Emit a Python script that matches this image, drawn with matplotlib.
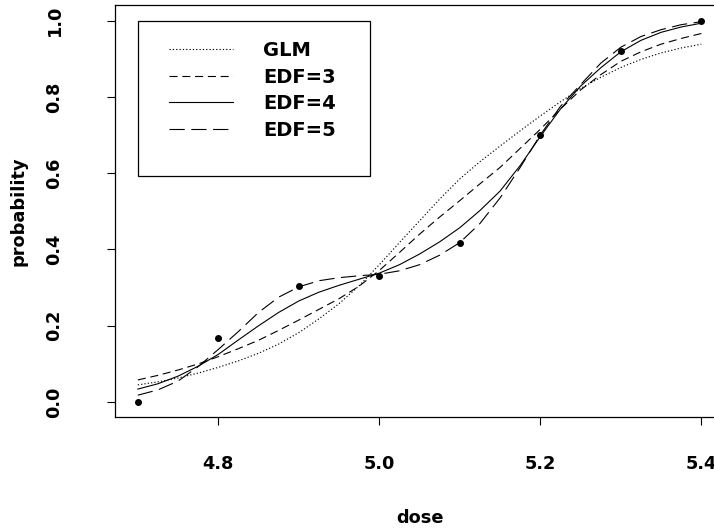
import matplotlib
matplotlib.use("Agg")
import matplotlib.pyplot as plt
from matplotlib.patches import Rectangle

plt.rcParams['font.family'] = ['DejaVu Sans']
plt.rcParams['font.weight'] = 'bold'
plt.rcParams['lines.scale_dashes'] = False

# observed proportions
dose_obs = [4.7, 4.8, 4.9, 5.0, 5.1, 5.2, 5.3, 5.4]
prob_obs = [0.0, 0.167, 0.303, 0.330, 0.418, 0.701, 0.921, 1.0]

# fitted curves
dose_grid = [4.700, 4.725, 4.750, 4.775, 4.800, 4.825, 4.850, 4.875, 4.900, 4.925,
             4.950, 4.975, 5.000, 5.025, 5.050, 5.075, 5.100, 5.125, 5.150, 5.175,
             5.200, 5.225, 5.250, 5.275, 5.300, 5.325, 5.350, 5.375, 5.400]
fit_glm = [0.045, 0.053, 0.063, 0.076, 0.091, 0.108, 0.128, 0.152, 0.182, 0.218,
           0.258, 0.305, 0.360, 0.418, 0.475, 0.532, 0.585, 0.630, 0.671, 0.711,
           0.750, 0.787, 0.822, 0.851, 0.877, 0.898, 0.915, 0.928, 0.938]
fit_edf3 = [0.058, 0.070, 0.084, 0.100, 0.119, 0.140, 0.162, 0.188, 0.215, 0.243,
            0.271, 0.304, 0.345, 0.392, 0.440, 0.485, 0.528, 0.572, 0.615, 0.665,
            0.715, 0.768, 0.818, 0.858, 0.893, 0.918, 0.938, 0.953, 0.966]
fit_edf4 = [0.034, 0.048, 0.068, 0.094, 0.125, 0.163, 0.200, 0.235, 0.265, 0.288,
            0.306, 0.322, 0.338, 0.360, 0.388, 0.420, 0.457, 0.502, 0.553, 0.620,
            0.696, 0.768, 0.828, 0.876, 0.918, 0.948, 0.969, 0.983, 0.993]
fit_edf5 = [0.018, 0.032, 0.055, 0.093, 0.138, 0.185, 0.235, 0.275, 0.302, 0.318,
            0.326, 0.331, 0.335, 0.344, 0.360, 0.385, 0.418, 0.468, 0.535, 0.615,
            0.700, 0.775, 0.832, 0.888, 0.930, 0.958, 0.976, 0.989, 0.997]

x_ticks = [4.8, 5.0, 5.2, 5.4]
y_ticks = [0.0, 0.2, 0.4, 0.6, 0.8, 1.0]

fig = plt.figure(figsize=(7.14, 5.30), dpi=100)
ax = fig.add_axes([0.1615, 0.2126, 0.8523, 0.7775])

lw = 0.8
ax.plot(dose_grid, fit_glm, color='black', lw=lw, dashes=(0.9, 1.5), label='GLM')
ax.plot(dose_grid, fit_edf3, color='black', lw=lw, dashes=(5.8, 3.4), label='EDF=3')
ax.plot(dose_grid, fit_edf4, color='black', lw=lw, label='EDF=4')
ax.plot(dose_grid, fit_edf5, color='black', lw=lw, dashes=(11, 4.7), label='EDF=5')
ax.plot(dose_obs, prob_obs, 'o', color='black', ms=4, zorder=5)

ax.set_xlim(4.672, 5.428)
ax.set_ylim(-0.04, 1.04)
ax.set_xticks(x_ticks)
ax.set_xticklabels([f"{v:.1f}" for v in x_ticks])
ax.set_yticks(y_ticks)
ax.set_yticklabels([f"{v:.1f}" for v in y_ticks])
ax.tick_params(axis='both', direction='out', length=5.8, width=0.8, labelsize=12.8)
ax.tick_params(axis='x', pad=21.5)
ax.tick_params(axis='y', pad=31.5, labelrotation=90)
for lab in ax.get_yticklabels():
    lab.set_va('center')

for s in ax.spines.values():
    s.set_linewidth(0.9)

ax.set_xlabel('dose', fontsize=12.8, fontweight='bold')
ax.xaxis.set_label_coords(0.5, -0.2225)
ax.set_ylabel('probability', fontsize=12.8, fontweight='bold')
ax.yaxis.set_label_coords(-0.1435, 0.5)

# legend box drawn separately so the inner margins match
ax.add_patch(Rectangle((0.0373, 0.5855), 0.3813, 0.3762, transform=ax.transAxes,
                       fill=False, lw=0.9, color='black', zorder=6))
leg = ax.legend(loc='upper left', bbox_to_anchor=(0.0883, 0.9139), frameon=False,
                borderpad=0, borderaxespad=0, handlelength=3.3, handletextpad=1.55,
                labelspacing=0.4, prop={'size': 14, 'weight': 'bold'})

fig.savefig('out.png', dpi=100)
